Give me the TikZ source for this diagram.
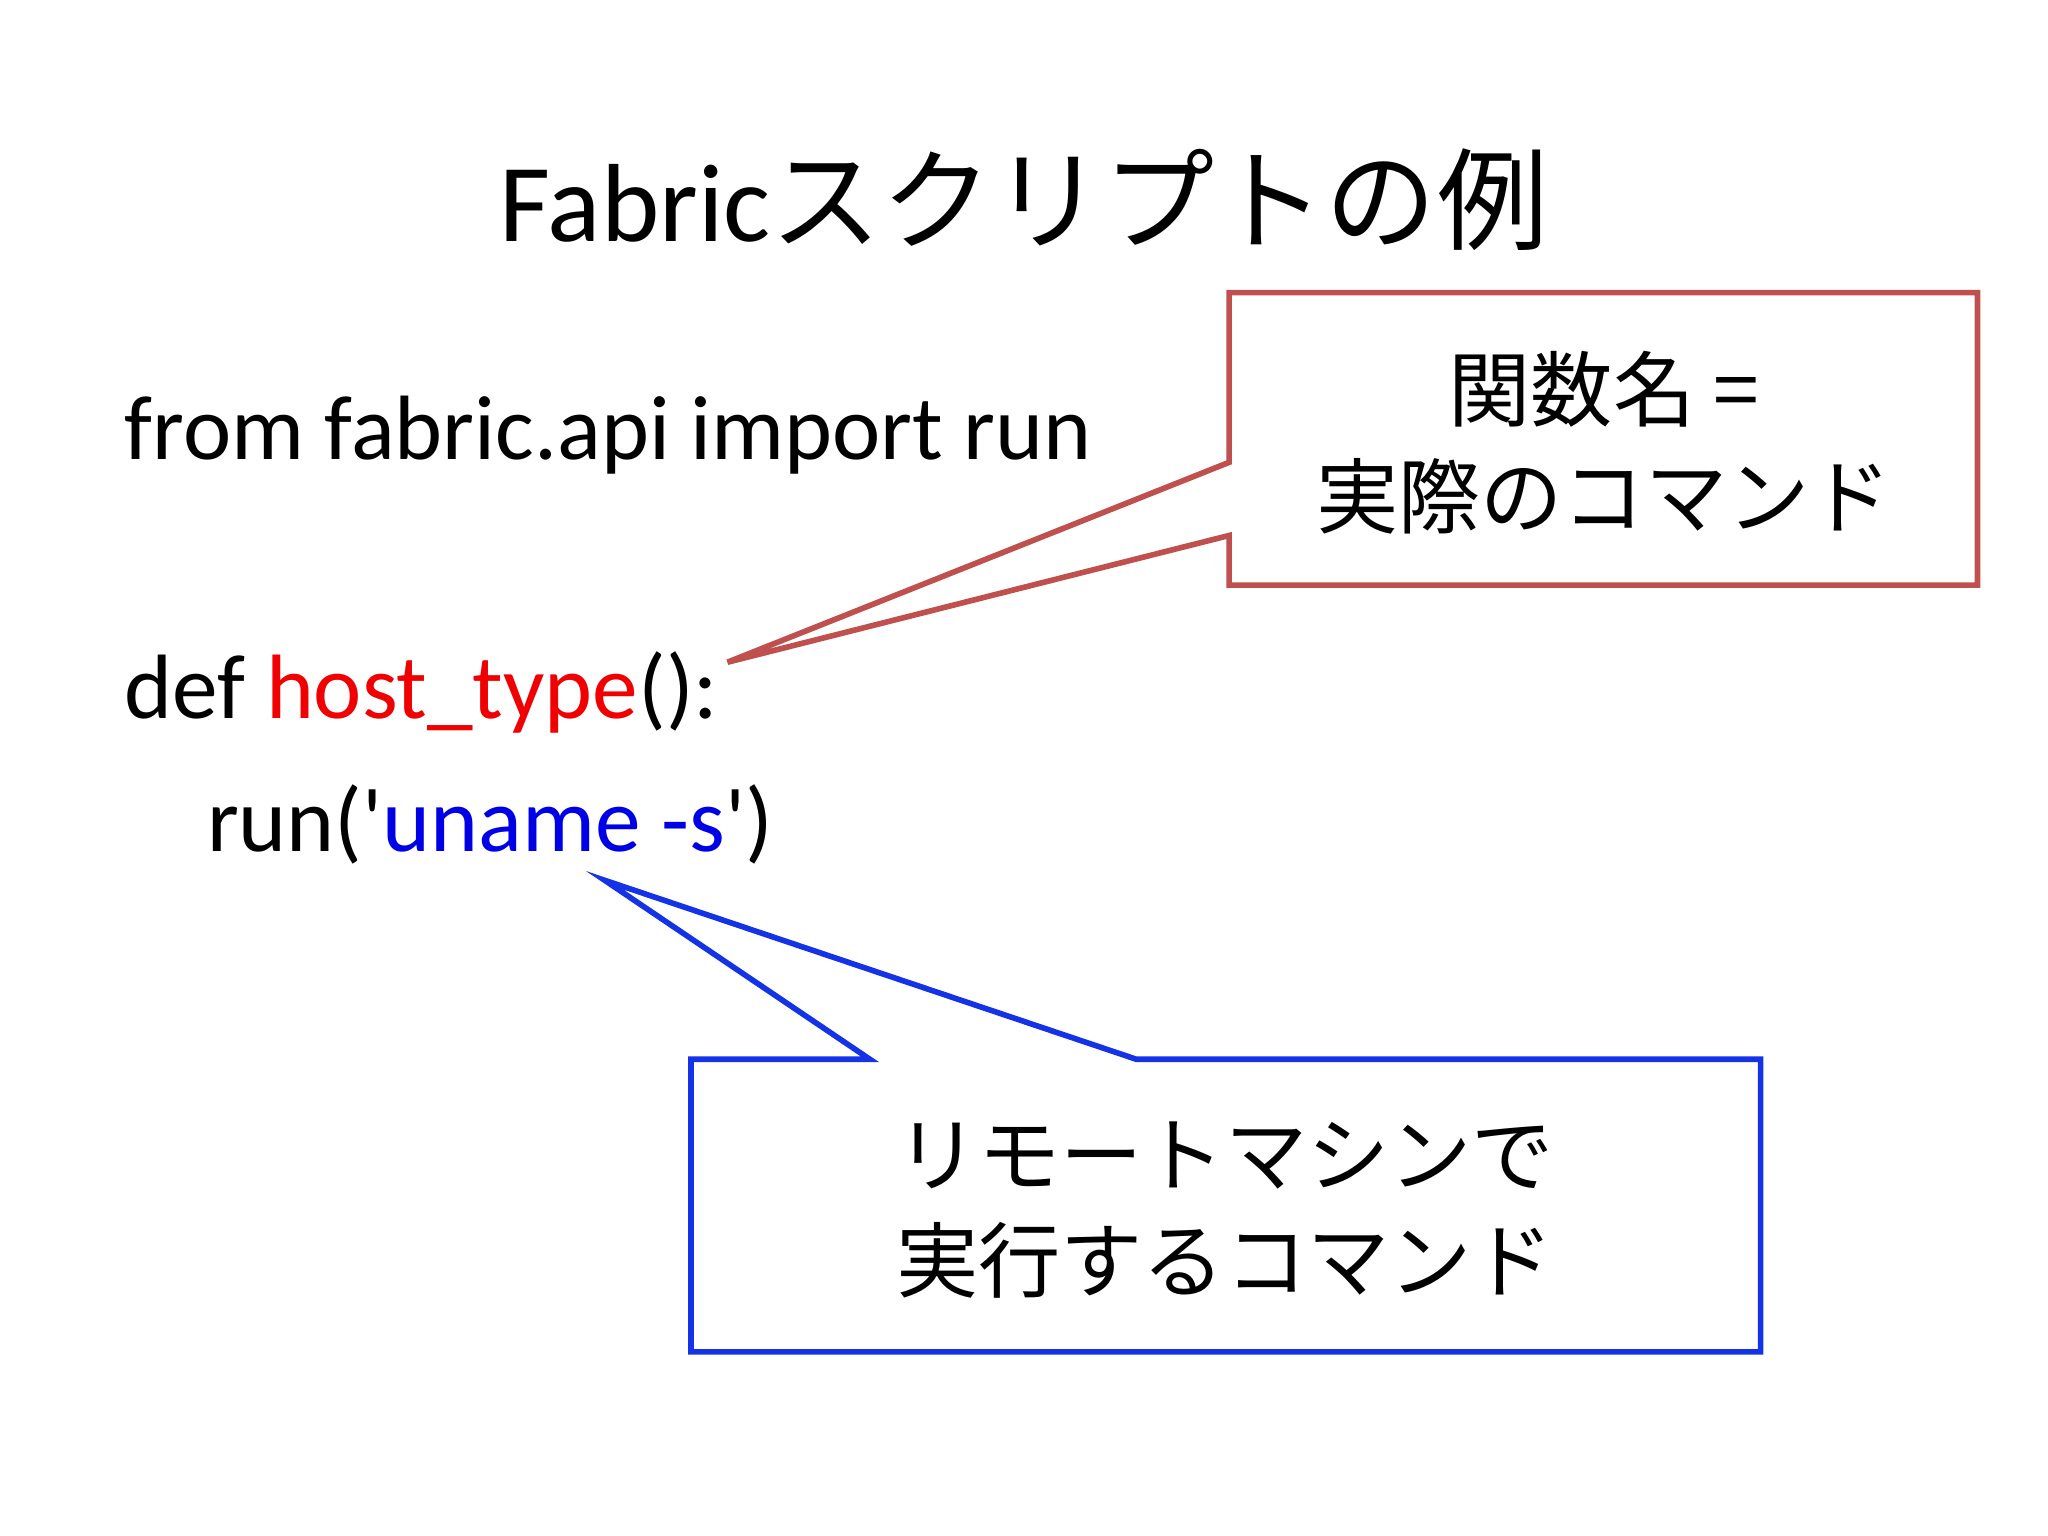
\documentclass[tikz,border=0pt]{standalone}
\usepackage{fontspec}
\newfontfamily\lat{Carlito}
\newfontfamily\cjk{Noto Sans CJK JP}
\definecolor{cred}{RGB}{192,80,77}
\definecolor{cblue}{RGB}{20,50,230}
\definecolor{kred}{RGB}{240,0,0}
\definecolor{kblue}{RGB}{0,0,230}
\begin{document}
\begin{tikzpicture}[x=0.013061cm,y=-0.013061cm,
  code/.style={anchor=base west,inner sep=0,font=\lat\fontsize{26}{31}\selectfont},
  jp/.style={font=\cjk\fontsize{23.4}{28}\selectfont,align=center,inner sep=0},
  call/.style={line width=1.6pt,fill=white,line join=miter}]
\useasboundingbox (0,0) rectangle (1568,1176);
\node[inner sep=0,anchor=base,font=\lat\fontsize{31.6}{36}\selectfont] (title) at (784,185) {Fabric{\cjk スクリプトの例}};
\node[code] (l1) at (95,352) {from fabric.api import run};
\node[code] (l2) at (95,550) {def \textcolor{kred}{host\_type}():};
\node[code] (l3) at (158,652) {run('\textcolor{kblue}{uname -s}')};
\coordinate (rtip) at (557,507);
\coordinate (btip) at (463,674);
\draw[call,draw=cred] (941,354) -- (rtip) -- (941,410) -- (941,448) -- (1514,448) -- (1514,224) -- (941,224) -- cycle;
\draw[call,draw=cblue] (666,811) -- (btip) -- (870,811) -- (1348,811) -- (1348,1035) -- (529,1035) -- (529,811) -- cycle;
\node[jp] (r1) at (1228,298) {関数名 =};
\node[jp] (r2) at (1228,380) {実際のコマンド};
\node[jp] (b1) at (938,885) {リモートマシンで};
\node[jp] (b2) at (938,965) {実行するコマンド};
\end{tikzpicture}
\end{document}
